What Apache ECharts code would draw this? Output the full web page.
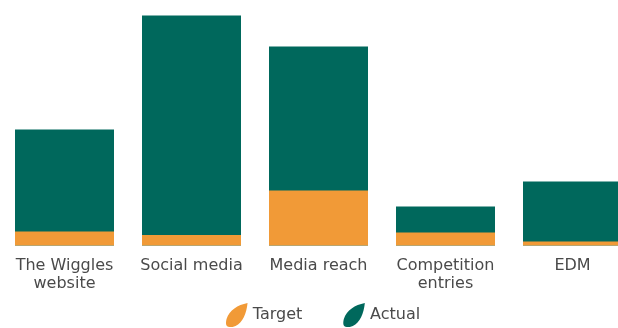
<!DOCTYPE html>
<html>
<head>
<meta charset="utf-8">
<script src="https://cdn.jsdelivr.net/npm/echarts@6/dist/echarts.min.js"></script>
<style>
  html, body { margin: 0; padding: 0; background: #ffffff; }
  #chart { width: 618px; height: 328px; }
</style>
</head>
<body>
<div id="chart"></div>
<script>
// Channel performance: target versus actual
const categories = ['The Wiggles\nwebsite', 'Social media', 'Media reach', 'Competition\nentries', 'EDM'];
const targetValues = [14, 10.5, 55, 13, 4];
const actualValues = [116, 230, 199, 39, 64];

const TEAL = '#00685c';
const ORANGE = '#f19a37';
const leaf = 'path://M4,24 C0,24 0,20 1,16 C4,7 12,2 22,0 C21,10 17,20 10,23 C8,24 6,24 4,24 Z';
const FONT = '"DejaVu Sans", sans-serif';

const chart = echarts.init(document.getElementById('chart'), null, { renderer: 'canvas' });
chart.setOption({
  animation: false,
  backgroundColor: '#ffffff',
  textStyle: { fontFamily: FONT },
  grid: {
    left: 1, width: 635, top: 0, bottom: 82.5,
    containLabel: false,
    outerBoundsMode: 'none'
  },
  legend: {
    left: 226,
    top: 303,
    padding: 0,
    itemWidth: 22,
    itemHeight: 24,
    itemGap: 41,
    textStyle: { fontSize: 16, color: '#4a4a4a', fontFamily: FONT },
    data: [
      { name: 'Target', icon: leaf },
      { name: 'Actual', icon: leaf }
    ]
  },
  xAxis: {
    type: 'category',
    data: categories,
    axisLine: { show: false },
    axisTick: { show: false },
    axisLabel: {
      margin: 11,
      fontSize: 16,
      lineHeight: 18,
      color: '#4a4a4a',
      fontFamily: FONT,
      interval: 0
    }
  },
  yAxis: {
    type: 'value',
    min: 0,
    max: 245.5,
    show: false,
    splitLine: { show: false }
  },
  series: [
    {
      name: 'Target',
      type: 'bar',
      data: targetValues,
      barWidth: 99,
      barGap: '-100%',
      z: 3,
      itemStyle: { color: ORANGE }
    },
    {
      name: 'Actual',
      type: 'bar',
      data: actualValues,
      barWidth: 99,
      z: 2,
      itemStyle: { color: TEAL }
    }
  ]
});
</script>
</body>
</html>
